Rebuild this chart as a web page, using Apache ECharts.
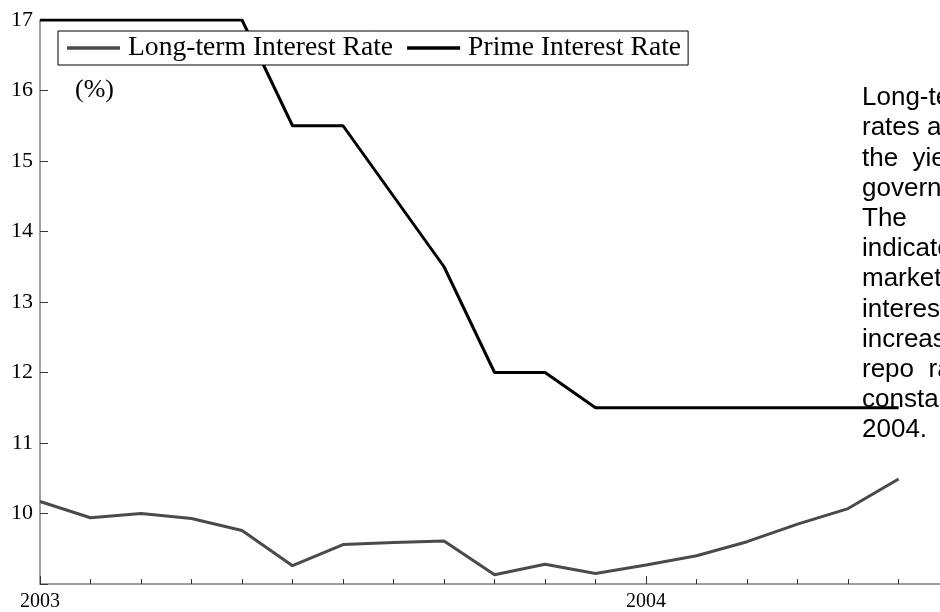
<!DOCTYPE html>
<html>
<head>
<meta charset="utf-8">
<script src="https://cdn.jsdelivr.net/npm/echarts@6/dist/echarts.min.js"></script>
<style>
  html, body { margin: 0; padding: 0; background: #fff; }
  #chart { width: 940px; height: 612px; }
</style>
</head>
<body>
<div id="chart"></div>
<script>
// Monthly observations, January 2003 to June 2004
const months = ['2003-01','2003-02','2003-03','2003-04','2003-05','2003-06','2003-07','2003-08','2003-09',
                '2003-10','2003-11','2003-12','2004-01','2004-02','2004-03','2004-04','2004-05','2004-06'];
// Long-term interest rate (%)
const longTermRate = [10.17, 9.94, 10.00, 9.93, 9.76, 9.26, 9.56, 9.59, 9.61,
                      9.13, 9.28, 9.15, 9.27, 9.40, 9.60, 9.85, 10.07, 10.49];
// Prime interest rate (%)
const primeRate = [17, 17, 17, 17, 17, 15.5, 15.5, 14.5, 13.5,
                   12, 12, 11.5, 11.5, 11.5, 11.5, 11.5, 11.5, 11.5];
// Year labels shown under the January ticks
const yearLabels = ['2003', '2004'];
const seriesNames = ['Long-term Interest Rate', 'Prime Interest Rate'];
const noteLines = [
  'Long-term interest',
  'rates are based on',
  'the  yield  of  10-year',
  'government bonds.',
  'The          prime rate',
  'indicates the lending',
  'market\u2019s benchmark',
  'interest rate. Despite',
  'increases in the',
  'repo  rate, it stayed',
  'constant throughout',
  '2004.'
];

const monthIdx = months.map((m, i) => i);
const januaryIdx = monthIdx.filter(i => months[i].endsWith('-01'));
const toPairs = vals => vals.map((v, i) => [monthIdx[i], v]);

const serif = '"Liberation Serif", "Times New Roman", serif';
const sans = '"Liberation Sans", Arial, sans-serif';

const chart = echarts.init(document.getElementById('chart'), null, { renderer: 'canvas' });
chart.setOption({
  animation: false,
  backgroundColor: '#fff',
  grid: { left: 40, right: 0, top: 20, bottom: 25, containLabel: false },
  legend: {
    data: seriesNames,
    left: 58,
    top: 31,
    orient: 'horizontal',
    icon: 'rect',
    itemWidth: 53,
    itemHeight: 3.5,
    itemGap: 14,
    padding: [3, 7, 3, 9],
    borderColor: '#000',
    borderWidth: 1,
    backgroundColor: '#fff',
    textStyle: { fontFamily: serif, fontSize: 27.6, color: '#000', padding: [0, 0, 0, 3] }
  },
  xAxis: [
    {
      type: 'value', min: 0, max: 17.82,
      axisLine: { show: true, lineStyle: { color: '#808080', width: 1.5 } },
      axisTick: { show: true, inside: true, length: 5, customValues: monthIdx,
                  lineStyle: { color: '#333', width: 1 } },
      axisLabel: {
        show: true, customValues: januaryIdx, margin: 8,
        fontFamily: serif, fontSize: 20, color: '#000',
        formatter: v => yearLabels[januaryIdx.indexOf(v)] || ''
      },
      splitLine: { show: false }
    },
    {
      type: 'value', min: 0, max: 17.82, position: 'bottom', offset: 0,
      axisLine: { show: false },
      axisTick: { show: true, inside: true, length: 8, customValues: januaryIdx,
                  lineStyle: { color: '#333', width: 1 } },
      axisLabel: { show: false },
      splitLine: { show: false }
    }
  ],
  yAxis: {
    type: 'value', min: 9, max: 17, interval: 1,
    axisLine: { show: true, lineStyle: { color: '#808080', width: 1.5 } },
    axisTick: { show: true, inside: true, length: 8, lineStyle: { color: '#333', width: 1 } },
    axisLabel: {
      margin: 7, fontFamily: serif, fontSize: 22, color: '#000',
      formatter: v => (v === 9 ? '' : String(v))
    },
    splitLine: { show: false }
  },
  series: [
    {
      name: seriesNames[0], type: 'line', xAxisIndex: 0,
      data: toPairs(longTermRate),
      color: '#4a4a4a', showSymbol: false, symbol: 'none',
      lineStyle: { color: '#4a4a4a', width: 3 }
    },
    {
      name: seriesNames[1], type: 'line', xAxisIndex: 0,
      data: toPairs(primeRate),
      color: '#000', showSymbol: false, symbol: 'none',
      lineStyle: { color: '#000', width: 3 }
    }
  ],
  graphic: [
    {
      type: 'text', left: 75, top: 77, silent: true,
      style: { text: '(%)', font: '26px ' + serif, fill: '#000' }
    },
    {
      type: 'text', left: 862, top: 83, silent: true, z: 10,
      style: { text: noteLines.join('\n'), font: '26px ' + sans, lineHeight: 30.2, fill: '#000' }
    }
  ]
});
</script>
</body>
</html>
